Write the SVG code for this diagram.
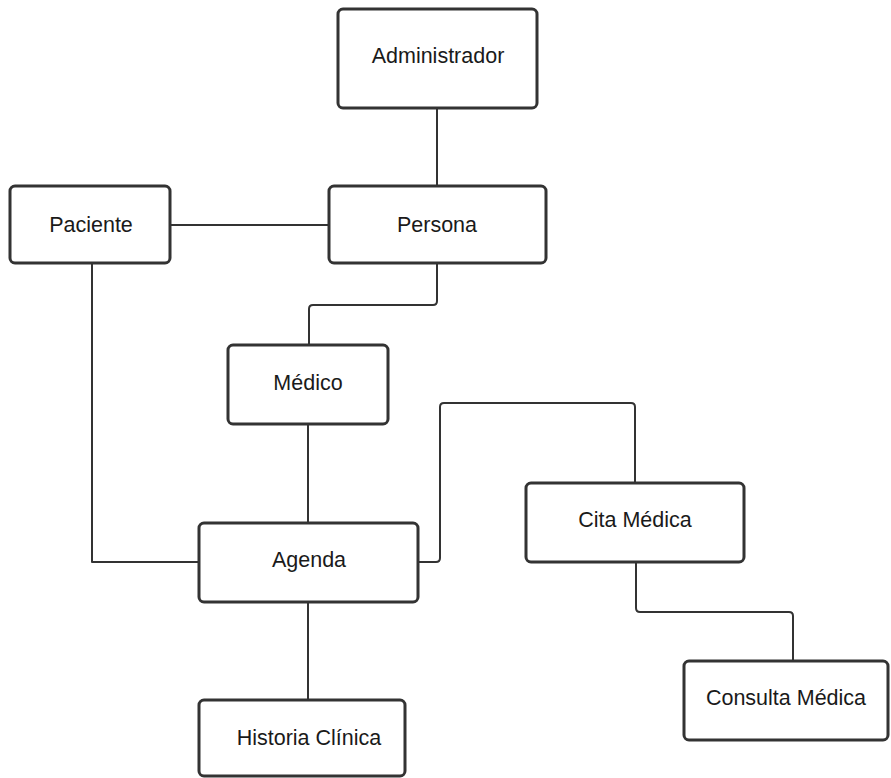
<svg xmlns="http://www.w3.org/2000/svg" width="891" height="778" viewBox="0 0 891 778">
<style>
.box{fill:#fff;stroke:#333;stroke-width:3;}
.lbl{font-family:"Liberation Sans",Arial,sans-serif;font-size:21.5px;fill:#1a1a1a;text-anchor:middle;}
.conn{fill:none;stroke:#333;stroke-width:2;stroke-linejoin:round;}
</style>
<rect width="891" height="778" fill="#fff"/>
<g id="connectors">
<path class="conn" d="M437 108 V186"/>
<path class="conn" d="M170 225 H329"/>
<path class="conn" d="M437 263 V301 Q437 305 433 305 H313 Q309 305 309 309 V345"/>
<path class="conn" d="M308 424 V523"/>
<path class="conn" d="M92 263 V562 H199"/>
<path class="conn" d="M418 562 H436 Q440 562 440 558 V407 Q440 403 444 403 H631 Q635 403 635 407 V483"/>
<path class="conn" d="M308 602 V700"/>
<path class="conn" d="M636 562 V608 Q636 612 640 612 H789 Q793 612 793 616 V661"/>
</g>
<g id="administrador"><rect class="box" x="338" y="9" width="199" height="99" rx="5"/><text class="lbl" x="438" y="63">Administrador</text></g>
<g id="paciente"><rect class="box" x="10" y="186" width="160" height="77" rx="5"/><text class="lbl" x="91" y="232">Paciente</text></g>
<g id="persona"><rect class="box" x="329" y="186" width="217" height="77" rx="5"/><text class="lbl" x="437" y="232">Persona</text></g>
<g id="medico"><rect class="box" x="228" y="345" width="160" height="79" rx="5"/><text class="lbl" x="308" y="390">Médico</text></g>
<g id="agenda"><rect class="box" x="199" y="523" width="219" height="79" rx="5"/><text class="lbl" x="309" y="567">Agenda</text></g>
<g id="cita-medica"><rect class="box" x="526" y="483" width="218" height="79" rx="5"/><text class="lbl" x="635" y="527">Cita Médica</text></g>
<g id="consulta-medica"><rect class="box" x="684" y="661" width="204" height="79" rx="5"/><text class="lbl" x="786" y="705">Consulta Médica</text></g>
<g id="historia-clinica"><rect class="box" x="199" y="700" width="206" height="76" rx="5"/><text class="lbl" x="309" y="745">Historia Clínica</text></g>
</svg>
